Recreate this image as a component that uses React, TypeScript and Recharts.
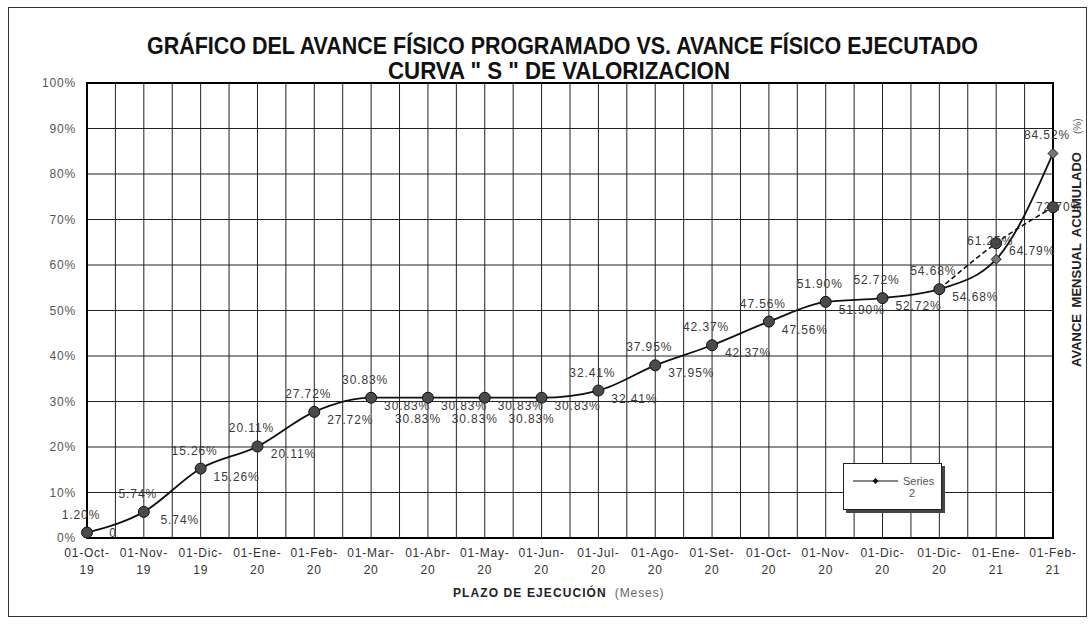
import React from 'react';
import { LineChart, Line, XAxis, YAxis, CartesianGrid, LabelList, Legend, ReferenceArea } from 'recharts';

const categories = [
  '01-Oct-19', '01-Nov-19', '01-Dic-19', '01-Ene-20', '01-Feb-20', '01-Mar-20',
  '01-Abr-20', '01-May-20', '01-Jun-20', '01-Jul-20', '01-Ago-20', '01-Set-20',
  '01-Oct-20', '01-Nov-20', '01-Dic-20', '01-Dic-20', '01-Ene-21', '01-Feb-21',
];
// diamond series (solid line, labels above)
const series2 = [1.2, 5.74, 15.26, 20.11, 27.72, 30.83, 30.83, 30.83, 30.83, 32.41, 37.95, 42.37, 47.56, 51.9, 52.72, 54.68, 61.25, 84.52];
// circle series (dashed at the end, labels below-right)
const series1 = [1.2, 5.74, 15.26, 20.11, 27.72, 30.83, 30.83, 30.83, 30.83, 32.41, 37.95, 42.37, 47.56, 51.9, 52.72, 54.68, 64.79, 72.7];
const series1FirstLabel = '0';
const dashedFrom = 15;
const yTicks = [0, 10, 20, 30, 40, 50, 60, 70, 80, 90, 100];
const xTicks = categories.map((_, i) => i);

const FONT = '"Liberation Sans", Arial, Helvetica, sans-serif';

const data = categories.map((c, i) => ({
  idx: i,
  cat: c,
  s1: series1[i],
  s2: series2[i],
  s1tail: i >= dashedFrom ? series1[i] : null,
}));

const fmt = (v: number) => `${v.toFixed(2)}%`;

const XTick = (props: any) => {
  const { x, y, payload } = props;
  const label: string = categories[payload.value] ?? '';
  const cut = label.lastIndexOf('-') + 1;
  return (
    <g>
      <text x={x} y={y} dy={11} textAnchor="middle" fontSize={12} letterSpacing={0.8} fill="#333" fontFamily={FONT}>
        {label.slice(0, cut)}
      </text>
      <text x={x} y={y} dy={28} textAnchor="middle" fontSize={12} letterSpacing={0.8} fill="#333" fontFamily={FONT}>
        {label.slice(cut)}
      </text>
    </g>
  );
};

const DiamondDot = (props: any) => {
  const { cx, cy, index } = props;
  if (cx == null || cy == null) return <g key={`d${index}`} />;
  const s = 5;
  return (
    <polygon
      key={`d${index}`}
      points={`${cx},${cy - s} ${cx + s},${cy} ${cx},${cy + s} ${cx - s},${cy}`}
      fill="#777"
      stroke="#222"
      strokeWidth={1}
    />
  );
};

const CircleDot = (props: any) => {
  const { cx, cy, index } = props;
  if (cx == null || cy == null) return <g key={`c${index}`} />;
  return <circle key={`c${index}`} cx={cx} cy={cy} r={5.5} fill="#4a4a4a" stroke="#111" strokeWidth={1} />;
};

const UpperLabel = (props: any) => {
  const { x, y, value, index } = props;
  if (value == null || x == null) return null;
  const plateau = index > 0 && series2[index] === series2[index - 1];
  return (
    <text
      x={plateau ? x - 10 : x - 6}
      y={plateau ? y + 25 : y - 14}
      textAnchor="middle"
      fontSize={12}
      letterSpacing={0.9}
      fill="#3a3a3a"
      fontFamily={FONT}
    >
      {fmt(Number(value))}
    </text>
  );
};

const LowerLabel = (props: any) => {
  const { x, y, value, index } = props;
  if (value == null || x == null) return null;
  const last = index === categories.length - 1;
  const text = index === 0 ? series1FirstLabel : fmt(Number(value));
  const dx = index === 0 ? 26 : last ? 6 : 36;
  const dy = index === 0 || last ? 4 : 12;
  return (
    <text x={x + dx} y={y + dy} textAnchor="middle" fontSize={12} letterSpacing={0.9} fill="#3a3a3a" fontFamily={FONT}>
      {text}
    </text>
  );
};

const LegendBox = (props: any) => {
  const items = (props.payload || []).filter((p: any) => p.value === 'Series 2');
  return (
    <div
      style={{
        width: 97,
        height: 45,
        border: '1px solid #222',
        background: '#fff',
        boxShadow: '3px 3px 0 #444',
        fontFamily: FONT,
      }}
    >
      {items.map((it: any) => (
        <svg key={it.value} width={97} height={45} style={{ display: 'block' }}>
          <line x1={9} y1={17} x2={54} y2={17} stroke="#111" strokeWidth={1.2} />
          <polygon points="31.5,14 34.5,17 31.5,20 28.5,17" fill="#111" />
          <text x={59} y={21} fontSize={11} fill="#555">Series</text>
          <text x={65} y={33} fontSize={11} fill="#555">2</text>
        </svg>
      ))}
    </div>
  );
};

const verticalGen = (args: any) => {
  const off = args.offset || {};
  const left = off.left ?? 87;
  const width = off.width ?? 966;
  const n = (categories.length - 1) * 2;
  return Array.from({ length: n + 1 }, (_, i) => left + (i * width) / n);
};

const TITLE_FONT = '"Liberation Sans", Arial, sans-serif';

export default function App() {
  return (
    <div style={{ position: 'absolute', left: 0, top: 0, width: 1088, height: 627, background: '#fff', fontFamily: FONT }}>
      <div
        style={{
          position: 'absolute',
          left: 8,
          top: 7,
          width: 1077,
          height: 608,
          border: '1px solid #333',
        }}
      />
      <div style={{ position: 'absolute', left: 0, top: 0 }}>
        <LineChart width={1088} height={627} data={data} margin={{ top: 83, right: 35, bottom: 59, left: 27 }}>
          <CartesianGrid stroke="#222" strokeWidth={1} verticalCoordinatesGenerator={verticalGen} />
          <XAxis
            type="number"
            dataKey="idx"
            domain={[0, 17]}
            ticks={xTicks}
            interval={0}
            height={30}
            tick={<XTick />}
            tickLine={false}
            axisLine={false}
          />
          <YAxis
            type="number"
            domain={[0, 100]}
            ticks={yTicks}
            interval={0}
            width={60}
            tickFormatter={(v: number) => `${v}%`}
            tick={{ fontSize: 12, fill: '#555', fontFamily: FONT, letterSpacing: 0.8 }}
            tickLine={false}
            axisLine={false}
            tickMargin={5}
          />
          <ReferenceArea x1={0} x2={17} y1={0} y2={100} fill="none" stroke="#000" strokeWidth={2} ifOverflow="visible" />
          <Legend
            layout="horizontal"
            verticalAlign="middle"
            align="center"
            content={<LegendBox />}
            wrapperStyle={{ position: 'absolute', left: 843, top: 463, width: 99, height: 47 }}
          />
          <Line
            name="Series 2"
            dataKey="s2"
            type="monotone"
            stroke="#111"
            strokeWidth={1.8}
            dot={<DiamondDot />}
            activeDot={false}
            isAnimationActive={false}
          >
            <LabelList dataKey="s2" content={<UpperLabel />} />
          </Line>
          <Line
            name="Series 1 tail"
            legendType="none"
            dataKey="s1tail"
            type="monotone"
            stroke="#111"
            strokeWidth={1.6}
            strokeDasharray="5 3"
            dot={false}
            activeDot={false}
            isAnimationActive={false}
          />
          <Line
            name="Series 1"
            legendType="none"
            dataKey="s1"
            type="monotone"
            stroke="none"
            dot={<CircleDot />}
            activeDot={false}
            isAnimationActive={false}
          >
            <LabelList dataKey="s1" content={<LowerLabel />} />
          </Line>
        </LineChart>
      </div>
      <svg width={1088} height={627} style={{ position: 'absolute', left: 0, top: 0, pointerEvents: 'none' }}>
        <text
          x={147}
          y={54}
          textLength={831}
          lengthAdjust="spacingAndGlyphs"
          fontSize={23}
          fontWeight="bold"
          fill="#111"
          fontFamily={TITLE_FONT}
        >
          GRÁFICO DEL AVANCE FÍSICO PROGRAMADO VS. AVANCE FÍSICO EJECUTADO
        </text>
        <text
          x={388}
          y={79}
          textLength={342}
          lengthAdjust="spacingAndGlyphs"
          fontSize={23}
          fontWeight="bold"
          fill="#111"
          fontFamily={TITLE_FONT}
        >
          CURVA " S " DE VALORIZACION
        </text>
        <text x={453} y={597} fontFamily={FONT} fill="#222">
          <tspan fontSize={12} fontWeight="bold" letterSpacing={1.1}>PLAZO DE EJECUCIÓN</tspan>
          <tspan fontSize={12} fill="#666" dx={8} letterSpacing={0.9}>(Meses)</tspan>
        </text>
        <text
          transform="translate(1081, 367) rotate(-90)"
          x={0}
          y={0}
          fontFamily={FONT}
          fill="#222"
        >
          <tspan fontSize={13} fontWeight="bold" wordSpacing={3}>AVANCE MENSUAL ACUMULADO</tspan>
          <tspan fontSize={10} fill="#666" dx={18}>(%)</tspan>
        </text>
      </svg>
    </div>
  );
}
